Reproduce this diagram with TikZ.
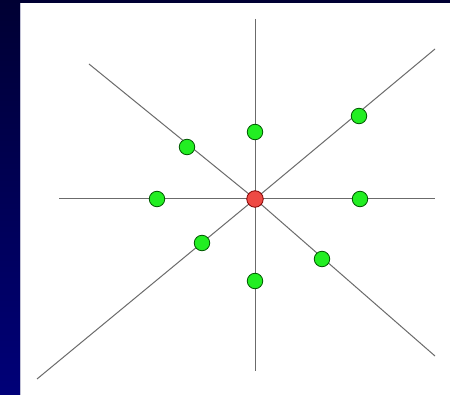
\documentclass[tikz,border=0pt]{standalone}
\begin{document}
\begin{tikzpicture}[x=1pt,y=-1pt,
  ray/.style={draw=black!58,line width=1pt},
  gdot/.style={circle,draw=green!35!black,line width=0.8pt,minimum size=15.5pt,inner sep=0pt},
  rdot/.style={circle,draw=red!50!black,line width=0.8pt,minimum size=16.5pt,inner sep=0pt}]
\definecolor{navytop}{HTML}{000033}
\definecolor{navybot}{HTML}{000078}
\definecolor{dotgreen}{HTML}{22EE22}
\definecolor{dotred}{HTML}{EE4A44}
\useasboundingbox (0,0) rectangle (450,395);
\shade[top color=navytop,bottom color=navybot] (0,0) rectangle (20,395);
\fill[navytop] (20,0) rectangle (450,3);
\fill[white] (20,3) rectangle (450,395);
\draw[blue!20!gray!40,line width=0.6pt] (20.3,3) -- (20.3,395);
% endpoints
\coordinate (c) at (255,199);
\coordinate (vt) at (255,19);
\coordinate (vb) at (255,371);
\coordinate (hl) at (59,199);
\coordinate (hr) at (435,199);
\coordinate (nw) at (89,64);
\coordinate (se) at (435,356);
\coordinate (ne) at (435,49);
\coordinate (sw) at (37,379);
\draw[ray] (vt) -- (vb);
\draw[ray] (hl) -- (hr);
\draw[ray] (nw) -- (c) -- (se);
\draw[ray] (sw) -- (c) -- (ne);
% dots
\node[gdot,fill=dotgreen] (n) at (255,132) {};
\node[gdot,fill=dotgreen] (a) at (187,147) {};
\node[gdot,fill=dotgreen] (b) at (359,116) {};
\node[gdot,fill=dotgreen] (w) at (157,199) {};
\node[gdot,fill=dotgreen] (e) at (360,199) {};
\node[gdot,fill=dotgreen] (d) at (202,243) {};
\node[gdot,fill=dotgreen] (f) at (322,259) {};
\node[gdot,fill=dotgreen] (s) at (255,281) {};
\node[rdot,fill=dotred] (o) at (c) {};
\end{tikzpicture}
\end{document}
